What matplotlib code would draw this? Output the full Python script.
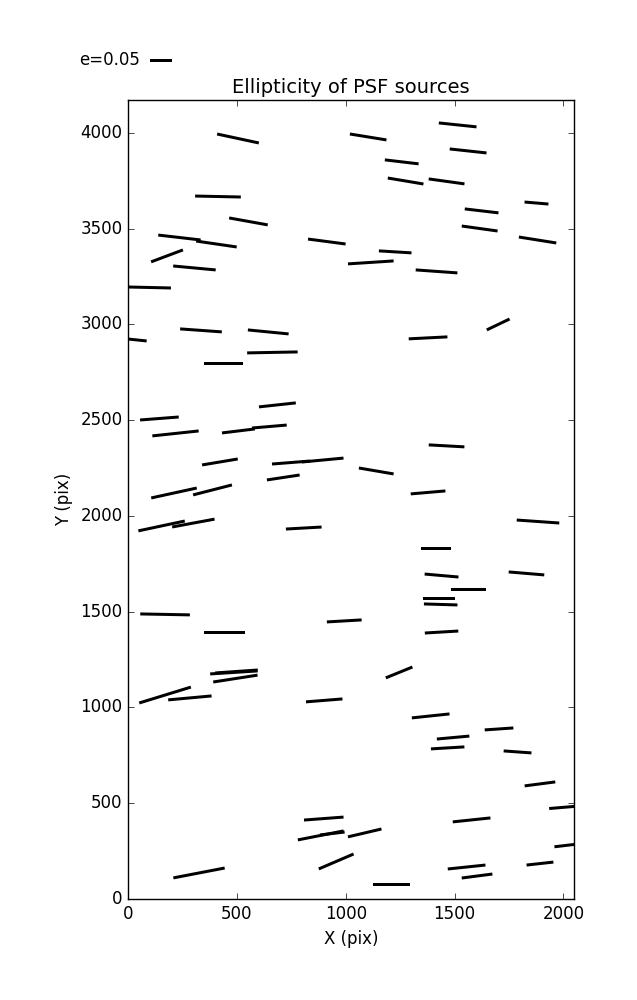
import numpy as np
import matplotlib
matplotlib.use('Agg')
import matplotlib.pyplot as plt

plt.style.use('classic')

# whisker centres (pix), ellipticity and position angle (deg, screen space)
x = [505, 1103, 1514, 1562, 1257, 413, 1275, 1463, 553, 1876,
     1624, 236, 406, 913, 1615, 1881, 179, 305, 99, 1227,
     1115, 1417, 0, 335, 644, 438, 663, 686, 144, 218,
     507, 649, 422, 748, 894, 713, 211, 388, 1700, 1378,
     1463, 1140, 1378, 154, 300, 807, 170, 443, 993, 486,
     498, 493, 170, 284, 901, 1883, 1415, 1440, 1830, 1562,
     1427, 1436, 1440, 1245, 326, 899, 885, 938, 1087, 956,
     1390, 1493, 1704, 1468, 1789, 1892, 2014, 1578, 2028, 1555,
     1603, 1892, 1209]
y = [3971, 3979, 4042, 3906, 3849, 3668, 3749, 3747, 3538, 3634,
     3593, 3454, 3420, 3433, 3501, 3441, 3358, 3295, 3193, 3379,
     3324, 3277, 2924, 2969, 2961, 2794, 2854, 2580, 2509, 2431,
     2444, 2467, 2282, 2279, 2292, 2201, 2120, 2136, 3000, 2930,
     2366, 2235, 2123, 1948, 1963, 1937, 1486, 1394, 1452, 1183,
     1188, 1151, 1065, 1050, 1037, 1971, 1828, 1689, 1700, 1614,
     1567, 1538, 1394, 1183, 136, 420, 332, 342, 345, 196,
     956, 843, 888, 789, 768, 601, 480, 413, 282, 167,
     120, 185, 78]
e = [0.098, 0.085, 0.087, 0.085, 0.078, 0.105, 0.083, 0.083, 0.090, 0.055,
     0.078, 0.098, 0.094, 0.087, 0.083, 0.087, 0.078, 0.098, 0.098, 0.075,
     0.105, 0.096, 0.086, 0.096, 0.094, 0.089, 0.116, 0.085, 0.089, 0.107,
     0.076, 0.080, 0.083, 0.087, 0.096, 0.076, 0.107, 0.092, 0.058, 0.089,
     0.082, 0.081, 0.080, 0.109, 0.099, 0.082, 0.114, 0.093, 0.080, 0.109,
     0.098, 0.103, 0.124, 0.100, 0.084, 0.098, 0.070, 0.078, 0.082, 0.080,
     0.073, 0.077, 0.077, 0.066, 0.120, 0.091, 0.107, 0.057, 0.079, 0.087,
     0.087, 0.075, 0.066, 0.077, 0.064, 0.071, 0.080, 0.087, 0.070, 0.087,
     0.071, 0.062, 0.084]
theta = [-12.1, -9.2, -6.0, -6.2, -6.7, -1.2, -9.5, -7.9, -10.2, -4.8,
         -6.7, -6.6, -8.3, -7.5, -7.9, -9.0, 20.6, -5.3, -1.3, -3.5,
         3.7, -4.1, -6.0, -4.1, -5.6, 0.0, 1.1, 6.2, 4.4, 6.1,
         6.9, 4.9, 9.5, 4.5, 5.4, 8.6, 12.3, 14.4, 25.6, 2.9,
         -3.2, -9.7, 4.9, 12.0, 10.5, 3.2, -1.1, 0.0, 3.3, 3.6,
         4.0, 8.8, 17.1, 5.2, 4.6, -4.0, 0.0, -5.0, -4.8, 0.0,
         0.0, -1.7, 3.4, 22.2, 10.9, 4.3, 11.1, 6.8, 13.2, 23.2,
         6.0, 5.2, 3.9, 3.4, -4.1, 7.4, 4.8, 6.0, 6.7, 6.0,
         7.4, 6.3, 0.0]

x = np.array(x)
y = np.array(y)
e = np.array(e)
th = np.radians(theta)
u = e * np.cos(th)
v = e * np.sin(th)

fig = plt.figure(figsize=(6.37, 10.0), dpi=100, facecolor='white')
ax = fig.add_axes([0.201, 0.101, 0.700, 0.799])

Q = ax.quiver(x, y, u, v, angles='uv', pivot='middle',
              scale_units='x', scale=0.0005,
              units='dots', width=3.0,
              headwidth=0, headlength=0, headaxislength=0, color='black')
ax.quiverkey(Q, 0.2355, 0.94, 0.05, 'e=0.05', labelpos='W',
             coordinates='figure', fontproperties={'size': 12})

ax.set_xlim(0, 2048)
ax.set_ylim(0, 4172)
ax.set_title('Ellipticity of PSF sources', fontsize=14)
ax.set_xlabel('X (pix)')
ax.set_ylabel('Y (pix)')

fig.savefig('out.png', dpi=100, facecolor='white')
